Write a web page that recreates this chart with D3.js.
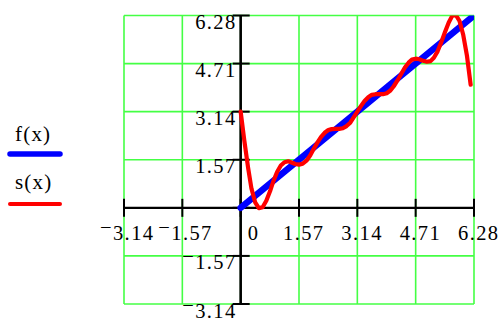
<!DOCTYPE html>
<html><head><meta charset="utf-8">
<script src="https://cdn.jsdelivr.net/npm/d3@7"></script>
<style>
html,body{margin:0;padding:0;background:#fff;}
svg{display:block;}
text{font-family:"Liberation Serif","Times New Roman",Times,serif;fill:#000;}
</style></head>
<body>
<svg id="chart" width="502" height="321"></svg>
<script>
// ---- data ----
const tickValues = [-3.14, -1.57, 0, 1.57, 3.14, 4.71, 6.28];
const xTickLabels = ["−3.14", "−1.57", "0", "1.57", "3.14", "4.71", "6.28"];
const yTickLabels = ["−3.14", "−1.57", "", "1.57", "3.14", "4.71", "6.28"];
const seriesNames = ["f(x)", "s(x)"];
const seriesColors = ["#0000ff", "#ff0000"];

const fX = [0, 6.28];
const fValues = [0, 6.28];

const sX = [0, 0.10, 0.20, 0.29, 0.39, 0.49, 0.59, 0.69, 0.79, 0.88, 0.98, 1.08, 1.18, 1.28, 1.37, 1.47,
  1.57, 1.67, 1.77, 1.87, 1.96, 2.06, 2.16, 2.26, 2.36, 2.45, 2.55, 2.65, 2.75, 2.85, 2.95, 3.04,
  3.14, 3.24, 3.34, 3.44, 3.53, 3.63, 3.73, 3.83, 3.93, 4.03, 4.12, 4.22, 4.32, 4.42, 4.52, 4.61,
  4.71, 4.81, 4.91, 5.01, 5.11, 5.20, 5.30, 5.40, 5.50, 5.60, 5.69, 5.79, 5.89, 5.99, 6.09, 6.19];
const sValues = [3.14, 2.18, 1.31, 0.63, 0.18, -0.01, 0.02, 0.23, 0.54, 0.87, 1.17, 1.38, 1.49, 1.52, 1.48, 1.43,
  1.41, 1.44, 1.54, 1.71, 1.91, 2.12, 2.31, 2.45, 2.54, 2.57, 2.58, 2.58, 2.60, 2.67, 2.78, 2.95,
  3.14, 3.33, 3.50, 3.62, 3.69, 3.71, 3.71, 3.71, 3.74, 3.83, 3.97, 4.16, 4.37, 4.58, 4.74, 4.84,
  4.87, 4.85, 4.80, 4.77, 4.79, 4.90, 5.11, 5.41, 5.74, 6.05, 6.26, 6.30, 6.10, 5.65, 4.97, 4.02];

// ---- layout ----
const svg = d3.select("#chart");
const x = d3.scaleLinear().domain([-3.14, 6.28]).range([124, 474]);
const y = d3.scaleLinear().domain([-3.14, 6.28]).range([304, 15.5]);
const gridColor = "#44ff44";
const fontSize = 20.5;
const spacing = 1.4;

// grid
svg.append("g").selectAll("line").data(tickValues).join("line")
  .attr("x1", d => x(d)).attr("x2", d => x(d))
  .attr("y1", y(-3.14)).attr("y2", y(6.28))
  .attr("stroke", gridColor).attr("stroke-width", 1.6);
svg.append("g").selectAll("line").data(tickValues).join("line")
  .attr("y1", d => y(d)).attr("y2", d => y(d))
  .attr("x1", x(-3.14)).attr("x2", x(6.28))
  .attr("stroke", gridColor).attr("stroke-width", 1.6);

// axes
const x0 = x(0), y0 = y(0);
svg.append("line").attr("x1", x(-3.14)).attr("x2", x(6.28)).attr("y1", y0).attr("y2", y0)
  .attr("stroke", "#000").attr("stroke-width", 2.2);
svg.append("line").attr("x1", x0).attr("x2", x0).attr("y1", y(-3.14)).attr("y2", y(6.28))
  .attr("stroke", "#000").attr("stroke-width", 2.6);
svg.append("g").selectAll("line").data(tickValues).join("line")
  .attr("x1", d => x(d)).attr("x2", d => x(d)).attr("y1", y0 - 9).attr("y2", y0 + 9)
  .attr("stroke", "#000").attr("stroke-width", 2);
svg.append("g").selectAll("line").data(tickValues).join("line")
  .attr("y1", d => y(d)).attr("y2", d => y(d)).attr("x1", x0 - 8).attr("x2", x0 + 9)
  .attr("stroke", "#000").attr("stroke-width", 2);

function addLabel(g, label) {
  const neg = label.startsWith("−");
  if (neg) {
    g.append("tspan").text("−").attr("dy", -6);
    g.append("tspan").text(label.slice(1)).attr("dy", 6);
  } else {
    g.text(label);
  }
}

// x tick labels
tickValues.forEach((t, i) => {
  const lab = xTickLabels[i];
  const off = lab.startsWith("−") ? -24 : (lab === "0" ? 7 : -16);
  const tx = svg.append("text").attr("x", x(t) + off).attr("y", y0 + 32)
    .attr("font-size", fontSize).attr("letter-spacing", spacing).attr("text-anchor", "start");
  addLabel(tx, lab);
});
// y tick labels
tickValues.forEach((t, i) => {
  const lab = yTickLabels[i];
  if (!lab) return;
  const tx = svg.append("text").attr("x", x0 - 4).attr("y", y(t) + 13.5)
    .attr("font-size", fontSize).attr("letter-spacing", spacing).attr("text-anchor", "end");
  addLabel(tx, lab);
});

// clip
svg.append("clipPath").attr("id", "plotclip").append("rect")
  .attr("x", x(-3.14)).attr("y", y(6.28)).attr("width", x(6.28) - x(-3.14)).attr("height", y(-3.14) - y(6.28));

const line = d3.line().x(d => x(d[0])).y(d => y(d[1]));
const plot = svg.append("g").attr("clip-path", "url(#plotclip)");
plot.append("path").datum(fX.map((v, i) => [v, fValues[i]]))
  .attr("d", line).attr("fill", "none").attr("stroke", seriesColors[0])
  .attr("stroke-width", 6.5).attr("stroke-linecap", "round");
plot.append("path").datum(sX.map((v, i) => [v, sValues[i]]))
  .attr("d", line).attr("fill", "none").attr("stroke", seriesColors[1])
  .attr("stroke-width", 4.2).attr("stroke-linejoin", "round").attr("stroke-linecap", "round");

// legend
const legendY = [141, 189];
const legendLineY = [154, 204];
const legendW = [5.5, 4];
seriesNames.forEach((n, i) => {
  svg.append("text").attr("x", 15).attr("y", legendY[i]).attr("font-size", 21)
    .attr("letter-spacing", 1.2).text(n);
  svg.append("line").attr("x1", 10).attr("x2", 60).attr("y1", legendLineY[i]).attr("y2", legendLineY[i])
    .attr("stroke", seriesColors[i]).attr("stroke-width", legendW[i]).attr("stroke-linecap", "round");
});
</script>
</body></html>
